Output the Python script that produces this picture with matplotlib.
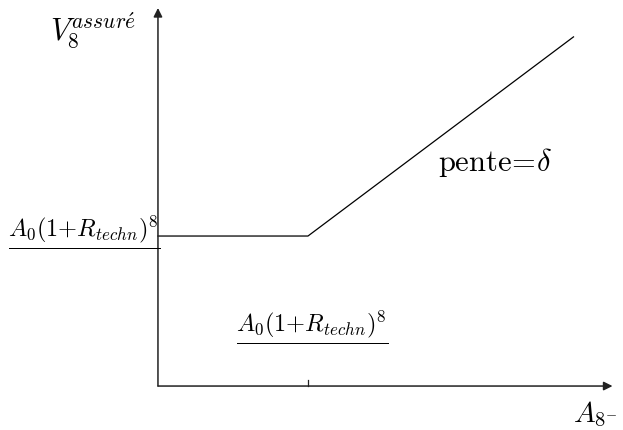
import matplotlib
matplotlib.use("Agg")
import matplotlib.pyplot as plt

plt.rcParams['mathtext.fontset'] = 'cm'
plt.rcParams['font.family'] = ['DejaVu Serif']

# payoff: guaranteed level, then linear with slope delta
threshold = 1.0          # A_0(1+R_techn)^8 on the x axis
guarantee = 1.0          # A_0(1+R_techn)^8 on the y axis
slope = 0.75
x_end = 2.77

x_pts = [0.0, threshold, x_end]
y_pts = [guarantee, guarantee, guarantee + slope * (x_end - threshold)]

x_axis_end = 3.03
y_axis_end = 2.52

fig = plt.figure(figsize=(6.23, 4.31), dpi=100)
ax = fig.add_axes([0, 0, 1, 1])
ax.set_xlim(-1.053, 3.1)
ax.set_ylim(-0.293, 2.58)
ax.axis('off')

# axes with arrow heads
arrow = dict(arrowstyle='-|>', color='#222222', lw=1.1, mutation_scale=13,
             shrinkA=0, shrinkB=0)
ax.annotate('', xy=(x_axis_end, 0), xytext=(0, 0), arrowprops=arrow)
ax.annotate('', xy=(0, y_axis_end), xytext=(0, 0), arrowprops=arrow)

# tick at the threshold
ax.plot([threshold, threshold], [0, 0.04], color='#222222', lw=0.9)

# payoff line
ax.plot(x_pts, y_pts, color='black', lw=0.9)

lab = r'$\dfrac{A_0(1{+}R_{techn})^8}{\ }$'
ax.text(-0.49, guarantee - 0.01, lab, fontsize=17.5, ha='center', va='center')
ax.text(threshold + 0.03, 0.36, lab, fontsize=17.5, ha='center', va='center')

ax.text(-0.72, 2.38, r'$V_8^{assur\acute{e}}$', fontsize=22, ha='left', va='center')
ax.text(1.87, 1.5, r'$\mathrm{pente}\!=\!\delta$', fontsize=22, ha='left', va='center')
ax.text(2.77, -0.18, r'$A_{8^{-}}$', fontsize=21, ha='left', va='center')

fig.savefig('out.png', dpi=100)
